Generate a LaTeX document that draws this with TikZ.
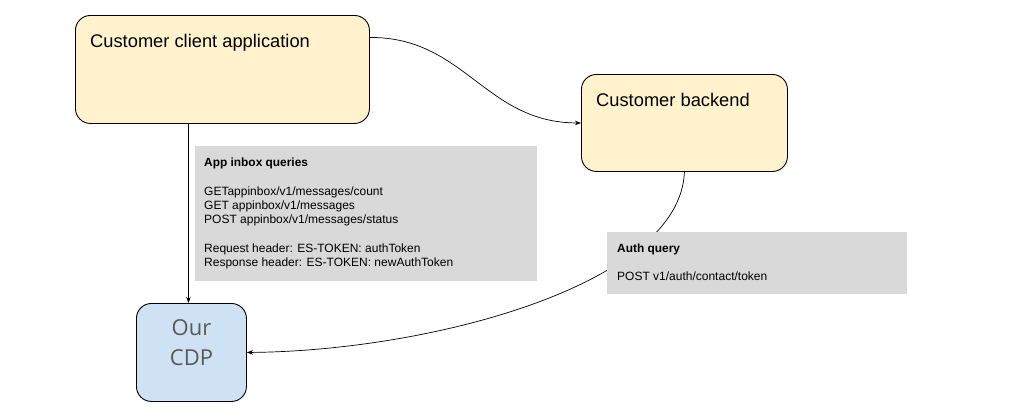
\documentclass[tikz,border=0pt]{standalone}
\usepackage{fontspec}
\setmainfont{Liberation Sans}
\newfontfamily\cdpfont{Open Sans}
\usetikzlibrary{arrows.meta}
\definecolor{boxyellow}{HTML}{FFF2CC}
\definecolor{boxblue}{HTML}{CFE2F3}
\definecolor{boxgray}{HTML}{D9D9D9}
\definecolor{cdptext}{HTML}{595959}
\tikzset{
  appbox/.style={draw=black, line width=0.9pt, rounded corners=15pt, anchor=north west, inner sep=0pt},
  graybox/.style={fill=boxgray, draw=none, anchor=north west, inner sep=0pt},
  titletext/.style={anchor=base west, inner sep=0pt, font=\fontsize{18.3}{21}\selectfont},
  smalltext/.style={anchor=base west, inner sep=0pt, font=\fontsize{12}{14}\selectfont},
  boldtext/.style={smalltext, font=\fontsize{11.9}{14}\selectfont\bfseries},
  conn/.style={draw=black, line width=0.7pt, -{Stealth[length=6pt,width=4.5pt]}},
}
\begin{document}
\begin{tikzpicture}[x=1pt,y=-1pt]
\useasboundingbox (0,0) rectangle (1018,416);
% boxes
\node[appbox, fill=boxyellow, minimum width=294pt, minimum height=108pt] (client) at (75,15) {};
\node[appbox, fill=boxyellow, minimum width=206pt, minimum height=97pt] (backend) at (581,74) {};
\node[appbox, fill=boxblue, minimum width=110pt, minimum height=98pt] (cdp) at (136,303) {};
\node[titletext] (clientlbl) at (90,47.5) {Customer client application};
\node[titletext] (backendlbl) at (596,106.5) {Customer backend};
\node[anchor=center, inner sep=0pt, text=cdptext, font=\cdpfont\fontsize{22}{30}\selectfont, align=center] (cdplbl) at ([yshift=10pt]cdp.center) {Our\\CDP};
% connectors
\draw[conn] ([yshift=32pt]client.east) .. controls (465,37) and (485,123) .. (backend.west);
\draw[conn] ([xshift=-3pt]cdp.north |- client.south) -- ([xshift=-3pt]cdp.north);
\draw[conn] (backend.south) .. controls (680,285) and (430,351) .. (cdp.east);
% gray boxes
\node[graybox, minimum width=342pt, minimum height=135pt] (inbox) at (195,146) {};
\node[graybox, minimum width=300pt, minimum height=62pt] (auth) at (607,232) {};
\node[boldtext] (q0) at (204,166.5) {App inbox queries};
\node[smalltext] (q1) at (204,195.5) {GETappinbox/v1/messages/count};
\node[smalltext] (q2) at (204,209.5) {GET appinbox/v1/messages};
\node[smalltext] (q3) at (204,223) {POST appinbox/v1/messages/status};
\node[smalltext] (q4) at (204,252) {Request header: ES-TOKEN: authToken};
\node[smalltext] (q5) at (204,266.5) {Response header: ES-TOKEN: newAuthToken};
\node[boldtext] (a0) at (617,252) {Auth query};
\node[smalltext] (a1) at (617,280.5) {POST v1/auth/contact/token};
\end{tikzpicture}
\end{document}
